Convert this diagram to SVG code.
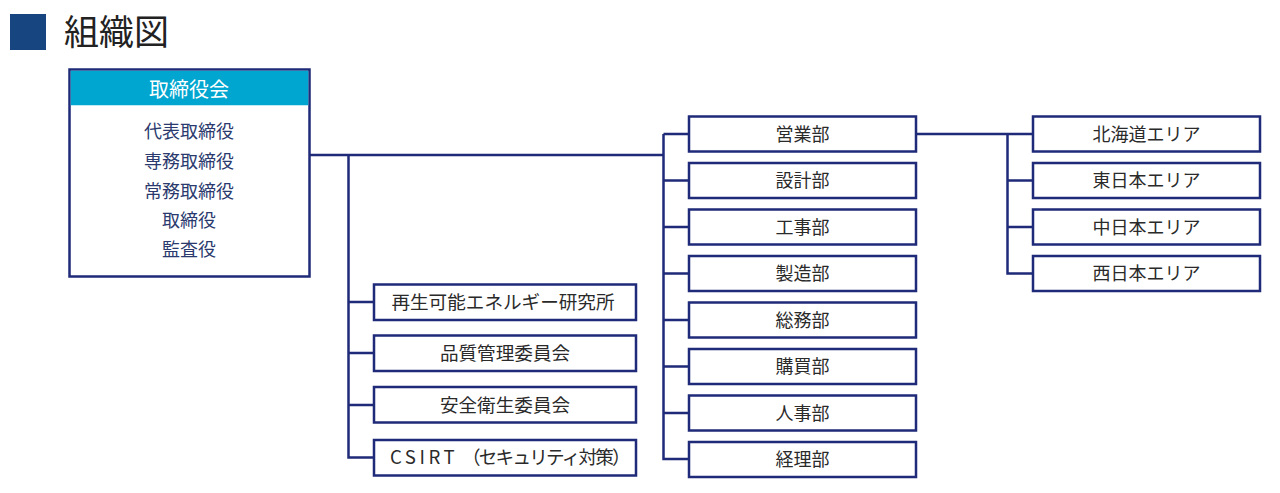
<svg xmlns="http://www.w3.org/2000/svg" width="1280" height="493" viewBox="0 0 1280 493">
<style>
text{font-family:"Noto Sans CJK JP","Noto Sans",sans-serif;}
.box{fill:#fff;stroke:#1f2a78;stroke-width:2.5;}
.lbl{font-size:18px;fill:#2a2a2a;text-anchor:middle;}
.lbl2{font-size:18.6px;fill:#2a2a2a;text-anchor:middle;}
.body{font-size:18px;fill:#2b3a6e;text-anchor:middle;}
.ln{fill:none;stroke:#1f2a78;stroke-width:2.5;}
</style>
<rect x="10" y="14" width="36" height="36" fill="#17457f"/>
<text x="64" y="45" font-size="35" fill="#222">組織図</text>

<g id="board">
<rect class="box" x="69.5" y="69.5" width="240" height="207"/>
<rect x="70.75" y="70.75" width="237.5" height="34.5" fill="#00a6cf"/>
<text x="189" y="96.5" font-size="20" fill="#fff" text-anchor="middle">取締役会</text>
<text class="body" x="189" y="138">代表取締役</text>
<text class="body" x="189" y="168">専務取締役</text>
<text class="body" x="189" y="197.5">常務取締役</text>
<text class="body" x="189" y="227">取締役</text>
<text class="body" x="189" y="256">監査役</text>
</g>

<g id="connectors">
<path class="ln" d="M310 155H663.5"/>
<path class="ln" d="M348.5 155V457.5H374M348.5 302H374M348.5 353H374M348.5 405H374"/>
<path class="ln" d="M663.5 134V459H689M663.5 134H689M663.5 180.5H689M663.5 227H689M663.5 273.5H689M663.5 320H689M663.5 366.5H689M663.5 413H689"/>
<path class="ln" d="M916 134H1033M1007.5 134V273.5H1033M1007.5 180.5H1033M1007.5 227H1033"/>
</g>

<g id="n-research"><rect class="box" x="374" y="284.5" width="262" height="35.5"/><text class="lbl2" x="503" y="308.5">再生可能エネルギー研究所</text></g>
<g id="n-quality"><rect class="box" x="374" y="335.5" width="262" height="35.5"/><text class="lbl2" x="505" y="359.5">品質管理委員会</text></g>
<g id="n-safety"><rect class="box" x="374" y="387" width="262" height="35.5"/><text class="lbl2" x="505" y="411.5">安全衛生委員会</text></g>
<g id="n-csirt"><rect class="box" x="374" y="440" width="262" height="35.5"/><text x="390" y="464" font-size="18.6" fill="#2a2a2a"><tspan letter-spacing="3.5">CSIRT</tspan><tspan x="462" letter-spacing="-1.8">（セキュリティ対策）</tspan></text></g>

<g id="n-sales"><rect class="box" x="689" y="116.5" width="227" height="35"/><text class="lbl" x="802.5" y="140.5">営業部</text></g>
<g id="n-design"><rect class="box" x="689" y="163" width="227" height="35"/><text class="lbl" x="802.5" y="187">設計部</text></g>
<g id="n-construction"><rect class="box" x="689" y="209.5" width="227" height="35"/><text class="lbl" x="802.5" y="233.5">工事部</text></g>
<g id="n-manufacturing"><rect class="box" x="689" y="256" width="227" height="35"/><text class="lbl" x="802.5" y="280">製造部</text></g>
<g id="n-general"><rect class="box" x="689" y="302.5" width="227" height="35"/><text class="lbl" x="802.5" y="326.5">総務部</text></g>
<g id="n-purchasing"><rect class="box" x="689" y="349" width="227" height="35"/><text class="lbl" x="802.5" y="373">購買部</text></g>
<g id="n-hr"><rect class="box" x="689" y="395.5" width="227" height="35"/><text class="lbl" x="802.5" y="419.5">人事部</text></g>
<g id="n-accounting"><rect class="box" x="689" y="442" width="227" height="35"/><text class="lbl" x="802.5" y="466">経理部</text></g>

<g id="n-hokkaido"><rect class="box" x="1033" y="116.5" width="227" height="35"/><text class="lbl" x="1146.5" y="140.5">北海道エリア</text></g>
<g id="n-east"><rect class="box" x="1033" y="163" width="227" height="35"/><text class="lbl" x="1146.5" y="187">東日本エリア</text></g>
<g id="n-central"><rect class="box" x="1033" y="209.5" width="227" height="35"/><text class="lbl" x="1146.5" y="233.5">中日本エリア</text></g>
<g id="n-west"><rect class="box" x="1033" y="256" width="227" height="35"/><text class="lbl" x="1146.5" y="280">西日本エリア</text></g>
</svg>
